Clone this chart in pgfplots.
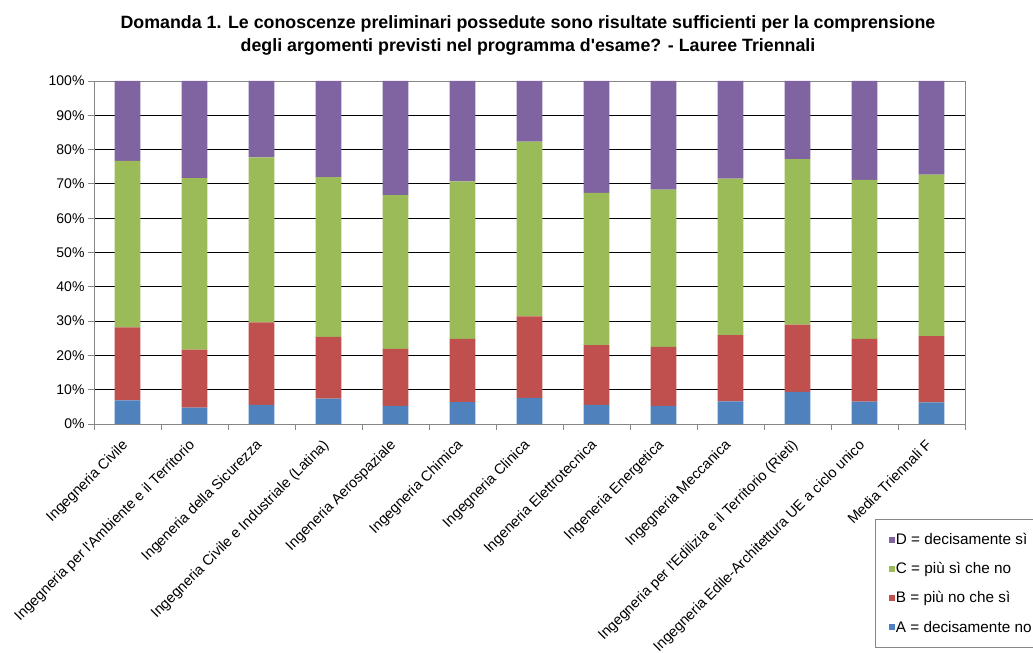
\documentclass[border=0pt]{standalone}
\usepackage{fontspec}
\setmainfont{Liberation Sans}[Ligatures=TeXOff]
\usepackage{pgfplots}
\pgfplotsset{compat=1.18}

\definecolor{cA}{HTML}{4F81BD}
\definecolor{cB}{HTML}{C0504D}
\definecolor{cC}{HTML}{9BBB59}
\definecolor{cD}{HTML}{8064A2}
\definecolor{axgray}{HTML}{868686}

% A = decisamente no, B = piu no che si, C = piu si che no, D = decisamente si
\pgfplotstableread{
x A B C D
0 6.9 21.3 48.5 23.3
1 4.8 16.9 50.0 28.3
2 5.6 24.0 48.1 22.3
3 7.4 18.0 46.6 28.0
4 5.3 16.6 44.8 33.3
5 6.4 18.4 45.9 29.3
6 7.6 23.8 50.9 17.7
7 5.6 17.4 44.4 32.6
8 5.3 17.2 45.8 31.7
9 6.6 19.3 45.6 28.5
10 9.4 19.6 48.2 22.8
11 6.5 18.3 46.4 28.8
12 6.3 19.3 47.1 27.3
}\datatable

\pgfplotsset{
  sq legend/.style={legend image code/.code={\fill[##1] (0bp,-3bp) rectangle (6bp,3bp);}},
}

\begin{document}
\begin{tikzpicture}[x=1bp,y=1bp]
\path[use as bounding box] (0,0) rectangle (1033,653);
\node[align=center, font=\bfseries\fontsize{17.8bp}{23bp}\selectfont] at (528,618)
  {Domanda 1. Le conoscenze preliminari possedute sono risultate sufficienti per la comprensione\\
   degli argomenti previsti nel programma d'esame? -  Lauree Triennali};
\begin{axis}[
  at={(94bp,229bp)}, anchor=south west,
  width=871bp, height=343bp, scale only axis,
  ybar stacked, bar width=0.385,
  xmin=-0.5, xmax=12.5, ymin=0, ymax=100,
  xtick={-0.5,0.5,...,12.5},
  x tick label as interval,
  xticklabels={Ingegneria Civile,
    Ingegneria per l'Ambiente e il Territorio,
    Ingeneria della Sicurezza,
    Ingegneria Civile e Industriale  (Latina),
    Ingeneria Aerospaziale,
    Ingegneria Chimica,
    Ingegneria Clinica,
    Ingeneria Elettrotecnica,
    Ingeneria Energetica,
    Ingegneria Meccanica,
    Ingegneria per l'Edilizia e il Territorio (Rieti),
    Ingegneria Edile-Architettura UE a ciclo unico,
    Media Triennali F},
  xticklabel style={xshift=1bp, yshift=-16bp, rotate=45, anchor=base east,
    font=\fontsize{14.5bp}{16bp}\selectfont, inner sep=0bp},
  ytick={0,10,...,100},
  yticklabel={\pgfmathprintnumber{\tick}\%},
  yticklabel style={font=\fontsize{14bp}{16bp}\selectfont},
  /pgf/number format/assume math mode=true,
  ymajorgrids,
  major grid style={black, line width=0.8bp},
  axis line style={axgray, line width=0.8bp},
  tick style={axgray, line width=0.8bp},
  tick align=outside, major tick length=6bp,
  xtick pos=bottom, ytick pos=left,
  reverse legend,
  legend cell align=left,
  legend style={at={(axis description cs:0.8963,-0.277)}, anchor=north west,
    draw=axgray, font=\fontsize{15.3bp}{17bp}\selectfont,
    row sep=12.5bp, inner xsep=14bp, inner ysep=12bp,
    nodes={inner xsep=1bp}},
]
\addplot[fill=cA, draw=none, sq legend] table[x=x, y=A] {\datatable};
\addplot[fill=cB, draw=none, sq legend] table[x=x, y=B] {\datatable};
\addplot[fill=cC, draw=none, sq legend] table[x=x, y=C] {\datatable};
\addplot[fill=cD, draw=none, sq legend] table[x=x, y=D] {\datatable};
\legend{A = decisamente no\hspace*{14bp}\null, B = più no che sì, C = più sì che no, D = decisamente sì}
\end{axis}
\end{tikzpicture}
\end{document}
